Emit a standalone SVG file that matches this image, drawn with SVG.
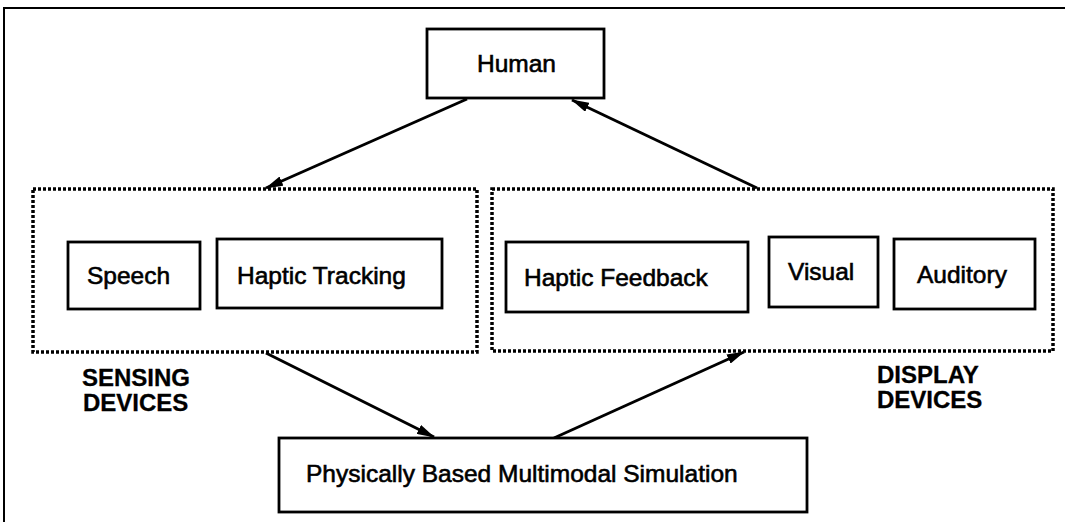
<svg xmlns="http://www.w3.org/2000/svg" width="1065" height="522" viewBox="0 0 1065 522">
<style>
.box{fill:#fff;stroke:#000;stroke-width:2.8}
.grp{fill:none;stroke:#000;stroke-width:3.5;stroke-dasharray:3 2}
.lbl{font-family:"Liberation Sans",Arial,sans-serif;font-size:24.5px;fill:#000;stroke:#000;stroke-width:0.6}
.cap{font-family:"Liberation Sans",Arial,sans-serif;font-size:24px;font-weight:bold;fill:#000;stroke:#000;stroke-width:0.3}
.edge{stroke:#000;stroke-width:3;fill:none;marker-end:url(#ah)}
</style>
<defs>
<marker id="ah" viewBox="0 0 18 10" refX="17" refY="5" markerWidth="18" markerHeight="10" markerUnits="userSpaceOnUse" orient="auto">
<path d="M0,0 L18,5 L0,10 Z" fill="#000"/>
</marker>
</defs>
<rect width="1065" height="522" fill="#fff"/>
<path d="M4,522 V8 H1065" fill="none" stroke="#000" stroke-width="2"/>
<g id="connectors">
<line class="edge" x1="467" y1="99" x2="266" y2="188"/>
<line class="edge" x1="757" y1="188" x2="572" y2="100"/>
<line class="edge" x1="266" y1="353" x2="434" y2="437"/>
<line class="edge" x1="554" y1="438" x2="744" y2="352"/>
</g>
<g id="human"><rect class="box" x="427" y="29" width="177" height="69"/><text class="lbl" x="477" y="72">Human</text></g>
<g id="sensing"><rect class="grp" x="33" y="189" width="444" height="163"/>
<text class="cap" x="82" y="386">SENSING</text><text class="cap" x="83" y="411">DEVICES</text></g>
<g id="display"><rect class="grp" x="492" y="189" width="561" height="162"/>
<text class="cap" x="877" y="383">DISPLAY</text><text class="cap" x="877" y="408">DEVICES</text></g>
<g id="speech"><rect class="box" x="68" y="242" width="132" height="67"/><text class="lbl" x="87" y="284">Speech</text></g>
<g id="haptic-tracking"><rect class="box" x="217" y="239" width="225" height="69"/><text class="lbl" x="237" y="284">Haptic Tracking</text></g>
<g id="haptic-feedback"><rect class="box" x="506" y="242" width="242" height="70"/><text class="lbl" x="524" y="286">Haptic Feedback</text></g>
<g id="visual"><rect class="box" x="769" y="237" width="109" height="70"/><text class="lbl" x="788" y="280">Visual</text></g>
<g id="auditory"><rect class="box" x="894" y="239" width="141" height="70"/><text class="lbl" x="917" y="283">Auditory</text></g>
<g id="simulation"><rect class="box" x="279" y="438" width="528" height="74"/><text class="lbl" x="306" y="482">Physically Based Multimodal Simulation</text></g>
</svg>
